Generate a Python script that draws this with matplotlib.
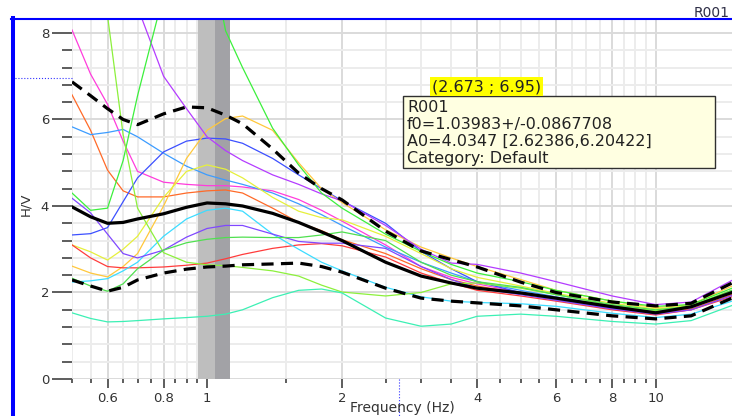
import numpy as np
import matplotlib.pyplot as plt
from matplotlib.patches import Rectangle
from matplotlib.lines import Line2D
from matplotlib.ticker import FixedLocator, NullFormatter

W, H = 732, 416

# H/V curves, all sampled on the same frequencies (Hz)
freq = [0.5, 0.55, 0.6, 0.65, 0.7, 0.8, 0.9, 1.0, 1.1, 1.2, 1.4, 1.6, 1.8, 2.0,
        2.5, 3.0, 3.5, 4, 5, 6, 8, 10, 12, 14.8]

hv_mean = [3.98, 3.75, 3.6, 3.62, 3.7, 3.82, 3.97, 4.07, 4.05, 4.0, 3.83, 3.62, 3.4, 3.2,
           2.7, 2.38, 2.22, 2.1, 1.99, 1.87, 1.67, 1.53, 1.67, 2.0]
hv_plus = [6.87, 6.55, 6.25, 6.0, 5.88, 6.13, 6.29, 6.27, 6.1, 5.9, 5.32, 4.76, 4.4, 4.14,
           3.42, 2.96, 2.76, 2.59, 2.24, 2.0, 1.78, 1.69, 1.75, 2.22]
hv_minus = [2.29, 2.15, 2.03, 2.12, 2.29, 2.45, 2.54, 2.59, 2.61, 2.64, 2.66, 2.68, 2.6, 2.47,
            2.1, 1.87, 1.8, 1.76, 1.69, 1.6, 1.46, 1.39, 1.46, 1.87]

windows = {
    '#FF3CDC': [8.07, 7.05, 6.35, 5.5, 4.8, 4.55, 4.5, 4.47, 4.47, 4.44, 4.35, 4.15, 3.9, 3.65,
                3.1, 2.6, 2.35, 2.2, 2.0, 1.85, 1.62, 1.5, 1.6, 1.95],
    '#FF6A28': [6.57, 5.75, 4.83, 4.35, 4.21, 4.21, 4.3, 4.35, 4.37, 4.3, 3.95, 3.62, 3.43, 3.22,
                2.9, 2.55, 2.3, 2.15, 1.98, 1.83, 1.65, 1.52, 1.62, 1.95],
    '#3C9CFF': [5.83, 5.65, 5.7, 5.77, 5.6, 5.22, 4.92, 4.72, 4.6, 4.5, 4.3, 4.05, 3.8, 3.55,
                3.05, 2.7, 2.45, 2.25, 2.05, 1.9, 1.68, 1.56, 1.66, 2.0],
    '#3C50FF': [3.33, 3.36, 3.5, 4.1, 4.65, 5.25, 5.5, 5.57, 5.55, 5.45, 5.1, 4.72, 4.4, 4.12,
                3.6, 2.95, 2.55, 2.25, 2.0, 1.85, 1.64, 1.55, 1.65, 2.0],
    '#FFC83C': [2.61, 2.45, 2.36, 2.6, 2.9, 4.0, 5.1, 5.75, 6.02, 6.08, 5.75, 5.0, 4.4, 4.08,
                3.45, 3.05, 2.8, 2.6, 2.3, 2.05, 1.8, 1.65, 1.72, 2.15],
    '#E6F03C': [3.1, 2.94, 2.75, 3.0, 3.3, 4.2, 4.8, 4.95, 4.85, 4.65, 4.2, 3.88, 3.73, 3.68,
                3.3, 2.9, 2.55, 2.35, 2.15, 1.98, 1.75, 1.62, 1.7, 2.05],
    '#FF3C3C': [3.1, 2.8, 2.6, 2.57, 2.57, 2.59, 2.63, 2.68, 2.78, 2.88, 3.02, 3.1, 3.13, 3.08,
                2.82, 2.45, 2.22, 2.05, 1.92, 1.8, 1.6, 1.48, 1.6, 1.9],
    '#3CDCFF': [2.24, 2.27, 2.32, 2.5, 2.7, 3.3, 3.7, 3.9, 3.95, 3.88, 3.35, 3.0, 2.7, 2.5,
                2.12, 1.9, 1.8, 1.77, 1.74, 1.68, 1.52, 1.42, 1.5, 1.8],
    '#8048FF': [4.18, 3.84, 3.35, 2.9, 2.8, 2.98, 3.28, 3.48, 3.55, 3.55, 3.35, 3.18, 3.14, 3.14,
                3.02, 2.6, 2.3, 2.1, 1.95, 1.82, 1.62, 1.5, 1.6, 1.93],
    '#B43CFF': [14.0, 12.5, 11.0, 9.8, 8.6, 7.0, 6.25, 5.6, 5.28, 5.05, 4.72, 4.5, 4.28, 4.12,
                3.55, 3.0, 2.68, 2.65, 2.45, 2.25, 1.92, 1.72, 1.78, 2.28],
    '#3CF03C': [4.3, 3.9, 3.95, 5.05, 6.55, 8.9, 10.5, 10.2, 8.05, 7.2, 5.8, 4.95, 4.3, 3.95,
                3.35, 2.95, 2.65, 2.45, 2.25, 2.05, 1.8, 1.68, 1.72, 2.1],
    '#8CF03C': [14.0, 11.0, 8.4, 5.65, 3.95, 2.92, 2.7, 2.64, 2.62, 2.58, 2.5, 2.38, 2.17, 2.01,
                1.92, 2.0, 2.2, 2.22, 2.1, 1.95, 1.7, 1.58, 1.68, 2.05],
    '#50E050': [2.33, 2.15, 2.03, 2.2, 2.55, 2.98, 3.15, 3.23, 3.27, 3.28, 3.27, 3.27, 3.33, 3.4,
                3.2, 2.7, 2.4, 2.25, 2.12, 1.95, 1.72, 1.6, 1.68, 2.05],
    '#3CF0B4': [1.53, 1.4, 1.32, 1.33, 1.35, 1.39, 1.42, 1.45, 1.5, 1.6, 1.88, 2.05, 2.08, 1.99,
                1.41, 1.22, 1.27, 1.45, 1.5, 1.45, 1.33, 1.27, 1.35, 1.7],
}

f0 = 1.03983
f0_std = 0.0867708
A0 = 4.0347
A0_lo, A0_hi = 2.62386, 6.20422
cursor_f, cursor_hv = 2.673, 6.95

x_major = [0.6, 0.8, 1, 2, 4, 6, 8, 10]
x_labels = ['0.6', '0.8', '1', '2', '4', '6', '8', '10']
y_major = [0, 2, 4, 6, 8]

fig = plt.figure(figsize=(W / 100, H / 100), dpi=100)
ax = fig.add_axes([72 / W, 1 - 379 / H, 660 / W, 359 / H])
ax.set_xscale('log')
ax.set_xlim(0.5, 14.8)
ax.set_ylim(0, 8.3)

# peak frequency band: f0-std .. f0 .. f0+std
ax.axvspan(f0 - f0_std, f0, color='#BEBEBE', lw=0, zorder=1)
ax.axvspan(f0, f0 + f0_std, color='#A2A2A6', lw=0, zorder=1)

for c, vals in windows.items():
    ax.plot(freq, vals, color=c, lw=0.9, zorder=2)

ax.plot(freq, hv_mean, color='black', lw=2.3, zorder=3)
ax.plot(freq, hv_plus, color='black', lw=2.3, ls=(0, (3.8, 2.3)), zorder=3)
ax.plot(freq, hv_minus, color='black', lw=2.3, ls=(0, (3.8, 2.3)), zorder=3)

# ticks and grid
x_minor = [v for v in np.round(np.arange(0.5, 1.0, 0.05), 2) if v not in (0.6, 0.8)]
x_minor += [v for v in np.arange(1.5, 10, 0.5) if v not in (2, 4, 6, 8)]
y_minor = [v for v in np.round(np.arange(0, 8.3, 0.4), 1) if v not in y_major]
ax.xaxis.set_major_locator(FixedLocator(x_major))
ax.xaxis.set_minor_locator(FixedLocator(x_minor))
ax.set_xticklabels(x_labels)
ax.xaxis.set_minor_formatter(NullFormatter())
ax.yaxis.set_major_locator(FixedLocator(y_major))
ax.yaxis.set_minor_locator(FixedLocator(y_minor))

ax.tick_params(axis='x', which='major', length=6.5, width=1.3, color='#505050',
               labelsize=9.5, labelcolor='#333333', pad=3)
ax.tick_params(axis='x', which='minor', length=3, width=1.3, color='#505050')
ax.tick_params(axis='y', which='major', length=14.4, width=1.3, color='#505050',
               labelsize=9.5, labelcolor='#333333', pad=2)
ax.tick_params(axis='y', which='minor', length=7.2, width=1.3, color='#505050')

ax.set_axisbelow(True)
ax.grid(which='major', color='#DADADA', lw=1.4)
ax.grid(which='minor', color='#ECECEC', lw=1.4)
for s in ax.spines.values():
    s.set_visible(False)

# cursor cross-hair
ax.plot([cursor_f, cursor_f], [0, -0.105], transform=ax.get_xaxis_transform(),
        color='#3333FF', lw=0.8, ls=':', clip_on=False, zorder=4)
ax.plot([-0.091, 0], [cursor_hv, cursor_hv], transform=ax.get_yaxis_transform(),
        color='#3333FF', lw=0.8, ls=':', clip_on=False, zorder=4)

def px(x, y):
    return x / W, 1 - y / H

# selection frame
fig.add_artist(Line2D([13 / W, 13 / W], [0, 1 - 18 / H], color='#0000FF', lw=2.9))
fig.add_artist(Line2D([11 / W, 1], [1 - 19 / H, 1 - 19 / H], color='#0000FF', lw=1.5))
fig.text(*px(694, 17), 'R001', fontsize=10, color='#303048', va='baseline')

fig.text(*px(26, 204), 'H/V', rotation=90, ha='center', va='center',
         fontsize=9.5, color='#333333')
fig.text(*px(402, 401), 'Frequency (Hz)', ha='center', va='top',
         fontsize=10, color='#333333')

# cursor value and peak info box
fig.text(*px(432, 91), f'({cursor_f} ; {cursor_hv})', fontsize=11.5, va='baseline',
         color='#222222', zorder=6,
         bbox=dict(facecolor='#FFFF00', edgecolor='none', pad=1.2))
fig.add_artist(Rectangle(px(403, 168), 312 / W, 72 / H, facecolor='#FFFFE1',
                         edgecolor='#303030', lw=1, zorder=5))
info = ['R001', f'f0={f0}+/-{f0_std}', f'A0={A0} [{A0_lo},{A0_hi}]',
        'Category: Default']
for i, line in enumerate(info):
    fig.text(*px(407, 112 + 16.9 * i), line, fontsize=11.5, va='baseline',
             color='#222222', zorder=6)

fig.savefig('out.png', dpi=100)
